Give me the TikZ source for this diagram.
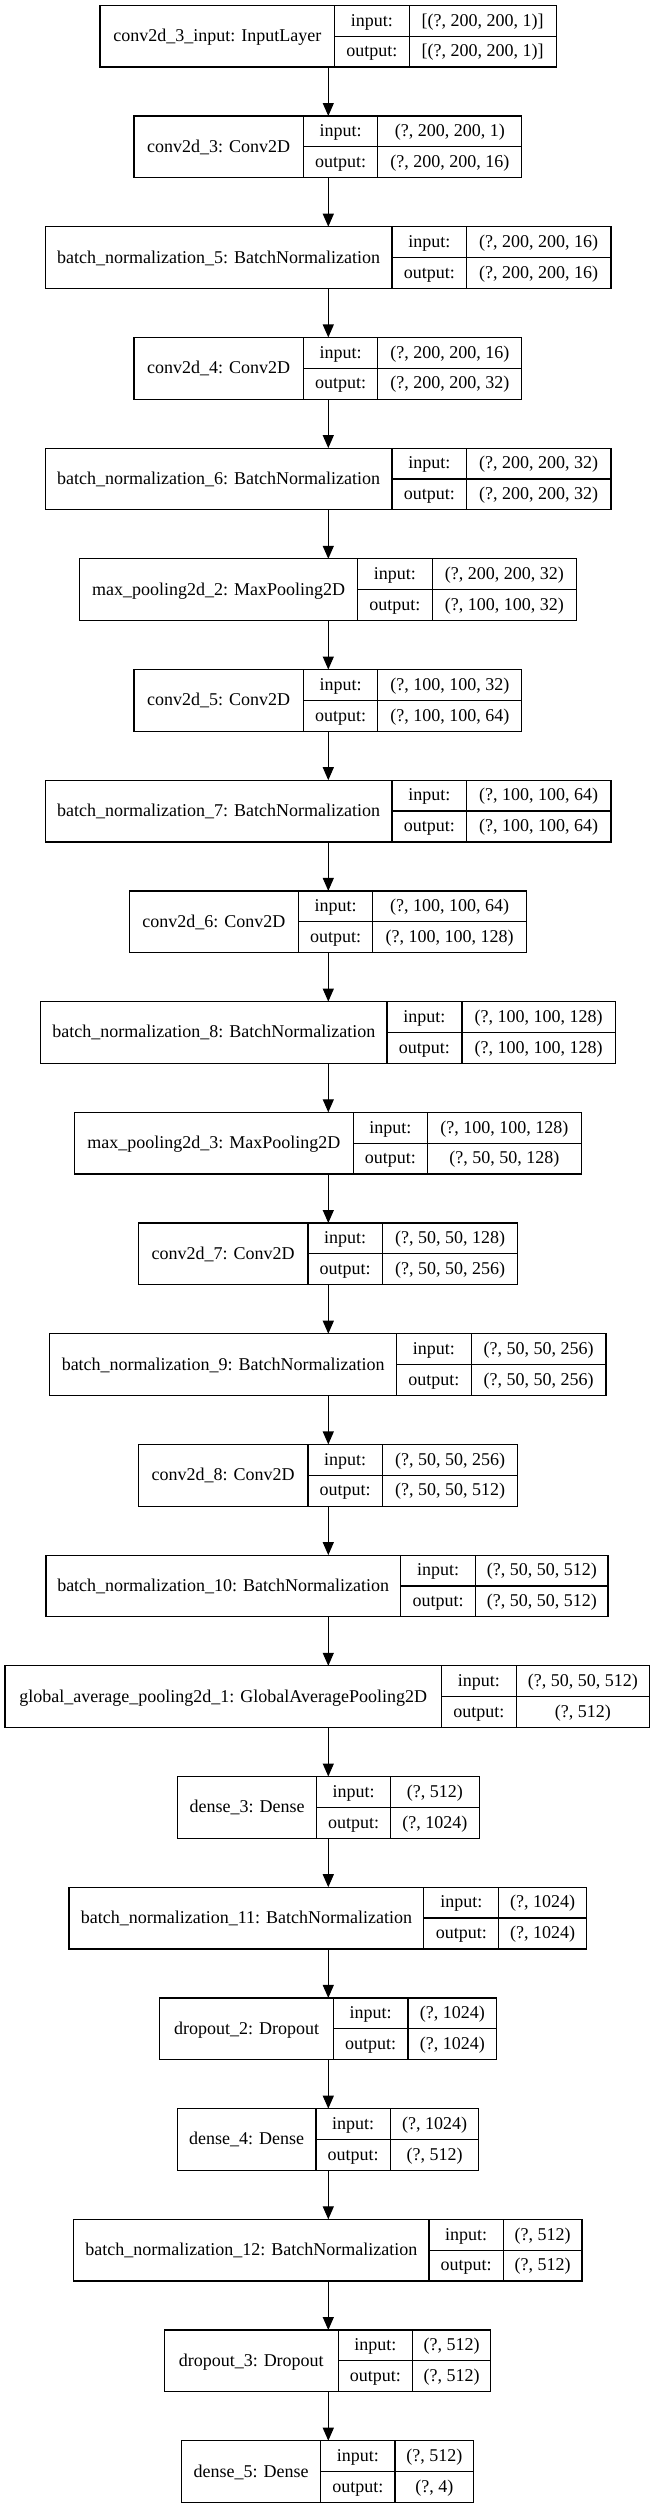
\documentclass[tikz,border=0pt]{standalone}
\usepackage{fontspec}
\setmainfont{Liberation Serif}
\usetikzlibrary{arrows.meta}
\tikzset{
  layerbox/.style={draw=black, line width=1.2pt, inner sep=0pt, outer sep=0pt, anchor=north west, minimum height=61.7pt},
  divider/.style={draw=black, line width=1.2pt},
  lbl/.style={inner sep=0pt, outer sep=0pt, anchor=base, font=\fontsize{18}{20}\selectfont},
  arr/.style={draw=black, line width=1.2pt, -{Triangle[length=13pt,width=11pt]}}
}
\newcommand\mylayer[8]{%
  \pgfmathsetmacro\yt{5.3+#1*110.7}%
  \pgfmathsetmacro\yb{\yt+61.7}%
  \pgfmathsetmacro\ym{\yt+30.85}%
  \pgfmathsetmacro\bw{#5-#2}%
  \node[layerbox, minimum width=\bw pt] (L#1) at (#2,\yt) {};
  \draw[divider] (#3,\yt) -- (#3,\yb);
  \draw[divider] (#4,\yt) -- (#4,\yb);
  \draw[divider] (#3,\ym) -- (#5,\ym);
  \node[lbl] (L#1n) at ({(#2+#3)/2},{\ym+5.5}) {#6};
  \node[lbl] (L#1ik) at ({(#3+#4)/2},{\yt+15.4+5.3}) {input:};
  \node[lbl] (L#1iv) at ({(#4+#5)/2},{\yt+15.4+5.3}) {#7};
  \node[lbl] (L#1ok) at ({(#3+#4)/2},{\ym+15.4+5.3}) {output:};
  \node[lbl] (L#1ov) at ({(#4+#5)/2},{\ym+15.4+5.3}) {#8};
}
\begin{document}
\begin{tikzpicture}[x=1pt,y=-1pt]
\useasboundingbox[fill=white] (0,0) rectangle (656,2508);
\coordinate (X) at (328.3,0);
\mylayer{0}{100.0}{334.7}{409.2}{556.1}{conv2d\_3\_input: InputLayer}{[(?, 200, 200, 1)]}{[(?, 200, 200, 1)]}
\mylayer{1}{133.9}{303.3}{377.8}{521.8}{conv2d\_3: Conv2D}{(?, 200, 200, 1)}{(?, 200, 200, 16)}
\mylayer{2}{45.2}{392.0}{466.5}{610.9}{batch\_normalization\_5: BatchNormalization}{(?, 200, 200, 16)}{(?, 200, 200, 16)}
\mylayer{3}{133.9}{303.3}{377.8}{521.8}{conv2d\_4: Conv2D}{(?, 200, 200, 16)}{(?, 200, 200, 32)}
\mylayer{4}{45.2}{392.0}{466.5}{610.9}{batch\_normalization\_6: BatchNormalization}{(?, 200, 200, 32)}{(?, 200, 200, 32)}
\mylayer{5}{79.5}{357.7}{432.2}{576.6}{max\_pooling2d\_2: MaxPooling2D}{(?, 200, 200, 32)}{(?, 100, 100, 32)}
\mylayer{6}{133.9}{303.3}{377.8}{521.8}{conv2d\_5: Conv2D}{(?, 100, 100, 32)}{(?, 100, 100, 64)}
\mylayer{7}{45.2}{392.0}{466.5}{610.9}{batch\_normalization\_7: BatchNormalization}{(?, 100, 100, 64)}{(?, 100, 100, 64)}
\mylayer{8}{129.3}{298.3}{372.8}{526.3}{conv2d\_6: Conv2D}{(?, 100, 100, 64)}{(?, 100, 100, 128)}
\mylayer{9}{40.6}{387.0}{461.9}{615.5}{batch\_normalization\_8: BatchNormalization}{(?, 100, 100, 128)}{(?, 100, 100, 128)}
\mylayer{10}{74.5}{353.1}{427.6}{581.2}{max\_pooling2d\_3: MaxPooling2D}{(?, 100, 100, 128)}{(?, 50, 50, 128)}
\mylayer{11}{138.5}{307.9}{382.4}{517.6}{conv2d\_7: Conv2D}{(?, 50, 50, 128)}{(?, 50, 50, 256)}
\mylayer{12}{49.8}{396.6}{471.1}{605.9}{batch\_normalization\_9: BatchNormalization}{(?, 50, 50, 256)}{(?, 50, 50, 256)}
\mylayer{13}{138.5}{307.9}{382.4}{517.6}{conv2d\_8: Conv2D}{(?, 50, 50, 256)}{(?, 50, 50, 512)}
\mylayer{14}{46.0}{400.4}{475.7}{607.9}{batch\_normalization\_10: BatchNormalization}{(?, 50, 50, 512)}{(?, 50, 50, 512)}
\mylayer{15}{5.0}{441.4}{516.3}{649.4}{global\_average\_pooling2d\_1: GlobalAveragePooling2D}{(?, 50, 50, 512)}{(?, 512)}
\mylayer{16}{177.8}{316.3}{390.8}{479.1}{dense\_3: Dense}{(?, 512)}{(?, 1024)}
\mylayer{17}{69.0}{423.8}{498.7}{586.6}{batch\_normalization\_11: BatchNormalization}{(?, 1024)}{(?, 1024)}
\mylayer{18}{159.8}{333.5}{407.9}{496.7}{dropout\_2: Dropout}{(?, 1024)}{(?, 1024)}
\mylayer{19}{177.4}{315.9}{390.4}{478.6}{dense\_4: Dense}{(?, 1024)}{(?, 512)}
\mylayer{20}{73.6}{428.9}{503.3}{582.0}{batch\_normalization\_12: BatchNormalization}{(?, 512)}{(?, 512)}
\mylayer{21}{164.4}{338.1}{412.5}{490.8}{dropout\_3: Dropout}{(?, 512)}{(?, 512)}
\mylayer{22}{181.6}{320.5}{395.0}{473.6}{dense\_5: Dense}{(?, 512)}{(?, 4)}
\foreach \i [evaluate=\i as \j using int(\i+1)] in {0,...,21} {
  \draw[arr] (L\i.south -| X) -- (L\j.north -| X);
}
\end{tikzpicture}
\end{document}
